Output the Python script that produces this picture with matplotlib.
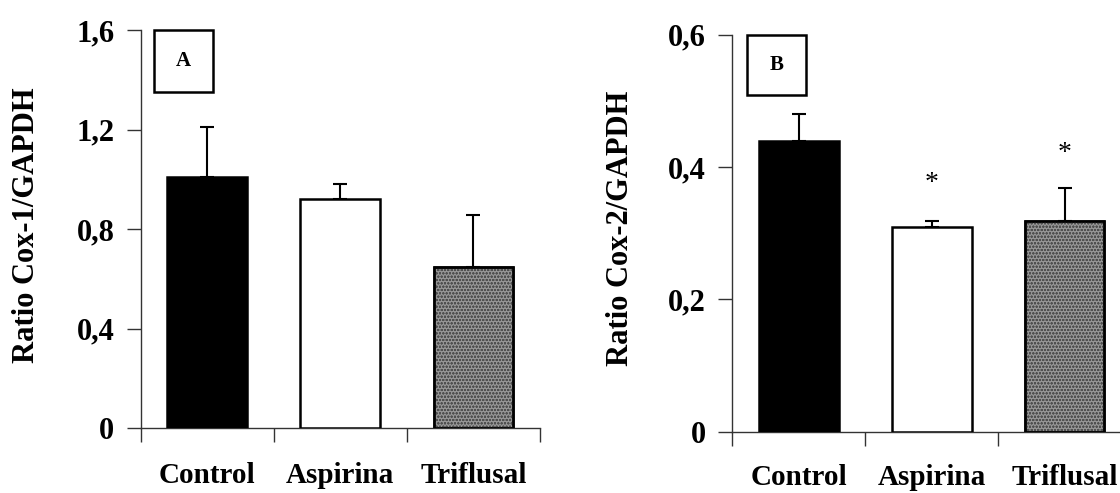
"""Cox-1 and Cox-2 expression ratios (panels A and B)."""

import matplotlib
matplotlib.use("Agg")
import matplotlib.pyplot as plt
from matplotlib.patches import Rectangle

plt.rcParams["font.family"] = ["Liberation Serif", "DejaVu Serif"]
plt.rcParams["hatch.linewidth"] = 0.6

W, H = 1120, 493

groups = ["Control", "Aspirina", "Triflusal"]

# Panel A: Cox-1/GAPDH
cox1 = [1.008, 0.920, 0.648]
cox1_err = [0.202, 0.062, 0.210]
cox1_ticks = [0, 0.4, 0.8, 1.2, 1.6]
cox1_ticklabels = ["0", "0,4", "0,8", "1,2", "1,6"]

# Panel B: Cox-2/GAPDH
cox2 = [0.439, 0.310, 0.319]
cox2_err = [0.041, 0.008, 0.049]
cox2_ticks = [0, 0.2, 0.4, 0.6]
cox2_ticklabels = ["0", "0,2", "0,4", "0,6"]
cox2_star_y = [None, 0.375, 0.421]  # significance marks

FACES = ["black", "white", "#969696"]


def draw_panel(ax, vals, errs, ticks, ticklabels, ymax, xlab_pad):
    x = range(len(vals))
    for i, (v, e) in enumerate(zip(vals, errs)):
        ax.errorbar(i, v, yerr=[[0], [e]], fmt="none", ecolor="black",
                    elinewidth=1.5, capsize=5, capthick=1.5, zorder=2)
    bars = ax.bar(x, vals, width=0.6, color=FACES, edgecolor="black",
                  linewidth=1.8, zorder=3)
    # fine stipple on the Triflusal bar
    ax.bar([2], [vals[2]], width=0.6, facecolor="none", edgecolor="#505050",
           hatch="ooooo", linewidth=0, zorder=3.5)
    ax.bar([2], [vals[2]], width=0.6, facecolor="none", edgecolor="black",
           linewidth=1.8, zorder=4)

    ax.set_xlim(-0.5, len(vals) - 0.5)
    ax.set_ylim(0, ymax)
    for s in ("top", "right"):
        ax.spines[s].set_visible(False)
    for s in ("left", "bottom"):
        ax.spines[s].set_linewidth(1.0)
        ax.spines[s].set_color("#333333")

    ax.set_yticks(ticks, ticklabels)
    ax.tick_params(axis="y", direction="out", length=10, width=1.0,
                   color="#333333", pad=9, labelsize=22)
    for lab in ax.get_yticklabels():
        lab.set_fontweight("bold")

    # boundaries carry the tick marks, category names sit at the centres
    ax.set_xticks([i - 0.5 for i in range(len(vals) + 1)], [""] * (len(vals) + 1))
    ax.tick_params(axis="x", which="major", direction="out", length=10,
                   width=1.0, color="#333333")
    ax.set_xticks(list(x), groups, minor=True)
    ax.tick_params(axis="x", which="minor", length=0, pad=xlab_pad, labelsize=21)
    for lab in ax.get_xticklabels(minor=True):
        lab.set_fontweight("bold")
    return bars


fig = plt.figure(figsize=(W / 100, H / 100), dpi=100)

axA = fig.add_axes([140.7 / W, 1 - 428.3 / H, 399.3 / W, 398.3 / H])
draw_panel(axA, cox1, cox1_err, cox1_ticks, cox1_ticklabels, 1.6, 24)

axB = fig.add_axes([732.3 / W, 1 - 431.7 / H, 398.7 / W, 397.0 / H])
draw_panel(axB, cox2, cox2_err, cox2_ticks, cox2_ticklabels, 0.6, 23)
for i, y in enumerate(cox2_star_y):
    if y is not None:
        axB.text(i, y, "*", ha="center", va="center", fontsize=20)

# y labels
fig.text(27 / W, 1 - 225 / H, "Ratio Cox-1/GAPDH", rotation=90, ha="center",
         va="center", fontsize=22, fontweight="bold")
fig.text(621 / W, 1 - 228 / H, "Ratio Cox-2/GAPDH", rotation=90, ha="center",
         va="center", fontsize=22, fontweight="bold")

# panel letters in boxes
for (x0, y0, x1, y1), letter in [((153.5, 30.5, 212.5, 91.5), "A"),
                                 ((747.0, 34.7, 806.0, 95.3), "B")]:
    fig.add_artist(Rectangle((x0 / W, 1 - y1 / H), (x1 - x0) / W, (y1 - y0) / H,
                             transform=fig.transFigure, fill=False,
                             edgecolor="black", linewidth=1.8))
    fig.text((x0 + x1) / 2 / W, 1 - (y0 + y1) / 2 / H, letter, ha="center",
             va="center", fontsize=15, fontweight="bold")

fig.savefig("out.png", dpi=100)
